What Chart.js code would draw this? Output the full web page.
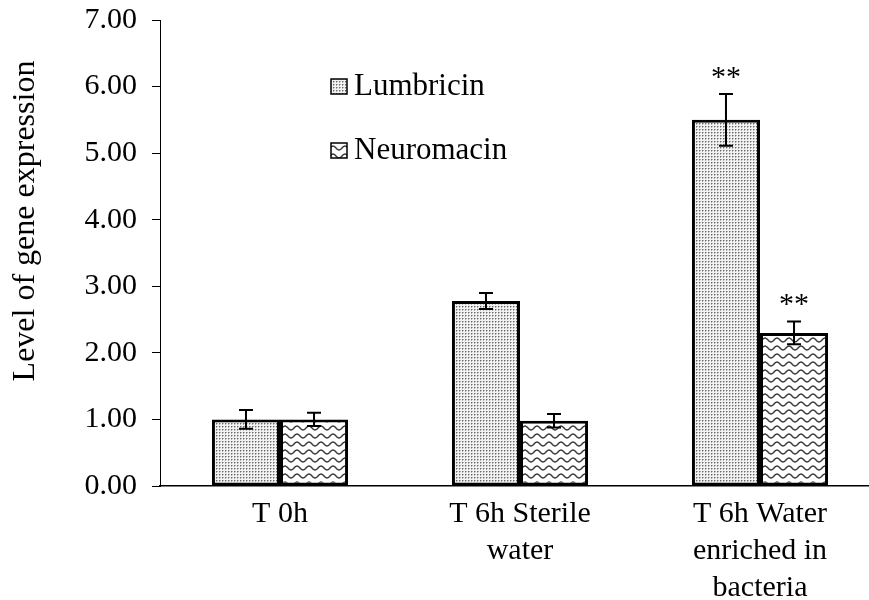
<!DOCTYPE html>
<html>
<head>
<meta charset="utf-8">
<script src="https://cdn.jsdelivr.net/npm/chart.js@4/dist/chart.umd.min.js"></script>
<style>
html,body{margin:0;padding:0;background:#fff;overflow:hidden;}
#wrap{width:890px;height:600px;position:relative;}
</style>
</head>
<body>
<div id="wrap"><canvas id="c" width="890" height="600"></canvas></div>
<script>
const categories = [["T 0h"], ["T 6h Sterile", "water"], ["T 6h Water", "enriched in", "bacteria"]];
const seriesNames = ["Lumbricin", "Neuromacin"];
const lumbricin = [1.00, 2.78, 5.50];
const neuromacin = [1.00, 0.98, 2.30];
const lumbricinErr = [0.14, 0.12, 0.39];
const neuromacinErr = [0.10, 0.10, 0.17];
const lumbricinMark = ["", "", "**"];
const neuromacinMark = ["", "", "**"];
const yAxisTitle = "Level of gene expression";
const yMin = 0, yMax = 7, yStep = 1;

const FONT = '"Liberation Serif", "Times New Roman", serif';

function dotPattern() {
  const t = document.createElement('canvas');
  t.width = 3; t.height = 3;
  const g = t.getContext('2d');
  g.fillStyle = '#f2f2f2'; g.fillRect(0, 0, 3, 3);
  g.fillStyle = '#6a6a6a'; g.fillRect(0, 0, 1, 1);
  g.fillStyle = '#b0b0b0'; g.fillRect(1, 0, 1, 1); g.fillRect(0, 1, 1, 1);
  return t;
}
function wavePattern() {
  const t = document.createElement('canvas');
  t.width = 12; t.height = 8;
  const g = t.getContext('2d');
  g.fillStyle = '#ffffff'; g.fillRect(0, 0, 12, 8);
  g.strokeStyle = '#333'; g.lineWidth = 1.4;
  for (const off of [-8, 0, 8]) {
    g.beginPath();
    for (let x = -1; x <= 13; x += 0.5) {
      const y = off + 4 + 2 * Math.sin(2 * Math.PI * x / 12);
      if (x === -1) g.moveTo(x, y); else g.lineTo(x, y);
    }
    g.stroke();
  }
  return t;
}
const ctx = document.getElementById('c').getContext('2d');
const patL = ctx.createPattern(dotPattern(), 'repeat');
const patN = ctx.createPattern(wavePattern(), 'repeat');

const errs = [lumbricinErr, neuromacinErr];
const marks = [lumbricinMark, neuromacinMark];

const overlay = {
  id: 'overlay',
  afterDatasetsDraw(chart) {
    const c = chart.ctx;
    const y = chart.scales.y;
    c.save();
    chart.data.datasets.forEach((ds, di) => {
      const meta = chart.getDatasetMeta(di);
      meta.data.forEach((bar, i) => {
        const v = ds.data[i], e = errs[di][i];
        const yt = y.getPixelForValue(v + e), yb = y.getPixelForValue(v - e);
        const x = bar.x;
        c.strokeStyle = '#000'; c.lineWidth = 2;
        c.beginPath();
        c.moveTo(x, yt); c.lineTo(x, yb);
        c.moveTo(x - 7, yt); c.lineTo(x + 7, yt);
        c.moveTo(x - 7, yb); c.lineTo(x + 7, yb);
        c.stroke();
        const m = marks[di][i];
        if (m) {
          c.fillStyle = '#000';
          c.font = '30px ' + FONT;
          c.textAlign = 'center'; c.textBaseline = 'middle';
          c.fillText(m, x, yt - 16);
        }
      });
    });
    // legend
    const pats = [patL, patN];
    const ly = [87, 151];
    seriesNames.forEach((name, k) => {
      c.fillStyle = pats[k];
      c.fillRect(331, ly[k] - 8, 16, 15);
      c.strokeStyle = '#000'; c.lineWidth = 1.5;
      c.strokeRect(331, ly[k] - 8, 16, 15);
      c.fillStyle = '#000';
      c.font = '31px ' + FONT;
      c.textAlign = 'left'; c.textBaseline = 'middle';
      c.fillText(name, 354, ly[k]);
    });
    // y axis title
    c.translate(26, 221);
    c.rotate(-Math.PI / 2);
    c.font = '32px ' + FONT;
    c.textAlign = 'center'; c.textBaseline = 'middle';
    c.fillStyle = '#000';
    c.fillText(yAxisTitle, 0, 0);
    c.restore();
  }
};

new Chart(ctx, {
  type: 'bar',
  data: {
    labels: categories,
    datasets: [
      { label: seriesNames[0], data: lumbricin, backgroundColor: patL, borderColor: '#000', borderWidth: 3, borderSkipped: false },
      { label: seriesNames[1], data: neuromacin, backgroundColor: patN, borderColor: '#000', borderWidth: 3, borderSkipped: false }
    ]
  },
  options: {
    responsive: false,
    animation: false,
    layout: { padding: { top: 20, right: 10, left: 0, bottom: 0 } },
    plugins: { legend: { display: false }, tooltip: { enabled: false } },
    datasets: { bar: { categoryPercentage: 0.567, barPercentage: 1.0 } },
    scales: {
      x: {
        grid: { display: false },
        border: { display: true, color: '#000', width: 1.5 },
        ticks: { color: '#000', font: { family: FONT, size: 30, lineHeight: 1.23 }, padding: 2, maxRotation: 0, autoSkip: false },
        afterFit(s) { s.height = 114; s.paddingLeft = 0; s.paddingRight = 0; }
      },
      y: {
        min: yMin, max: yMax,
        grid: { drawOnChartArea: false, drawTicks: true, tickLength: 8, color: '#000', lineWidth: 1 },
        border: { display: true, color: '#000', width: 1 },
        ticks: { stepSize: yStep, color: '#000', font: { family: FONT, size: 30 }, padding: 15, callback: v => v.toFixed(2) },
        afterFit(s) { s.width = 160; s.paddingTop = 0; s.paddingBottom = 0; }
      }
    }
  },
  plugins: [overlay]
});
</script>
</body>
</html>
